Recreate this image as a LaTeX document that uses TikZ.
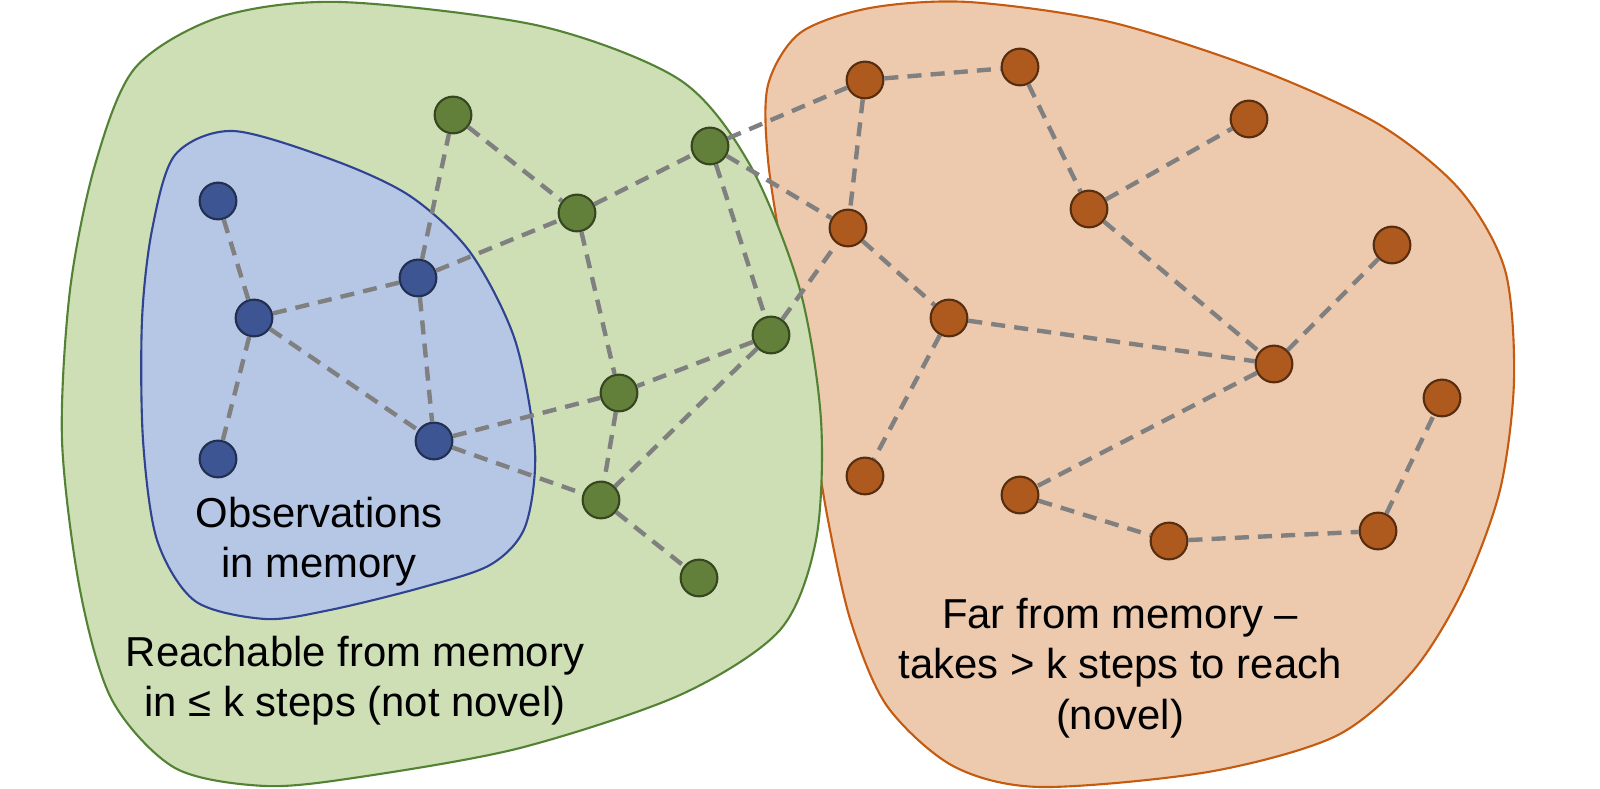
\documentclass[tikz,border=0pt]{standalone}
\usepackage{fontspec}
\setmainfont{Liberation Sans}
\definecolor{reachfill}{HTML}{CEDFB6}
\definecolor{reachline}{HTML}{548235}
\definecolor{memfill}{HTML}{B6C7E6}
\definecolor{memline}{HTML}{2F4390}
\definecolor{farfill}{HTML}{EDCAAE}
\definecolor{farline}{HTML}{C55A11}
\definecolor{gdotfill}{HTML}{62803A}
\definecolor{bdotfill}{HTML}{3D5593}
\definecolor{odotfill}{HTML}{AE5A1E}
\begin{document}
\begin{tikzpicture}[x=0.01cm,y=-0.01cm,every node/.style={font=\fontsize{11.9}{14.3}\selectfont},
  dot/.style={circle,minimum size=0.367cm,inner sep=0pt,line width=0.6pt},
  bdot/.style={dot,fill=bdotfill,draw=bdotfill!55!black},
  gdot/.style={dot,fill=gdotfill,draw=gdotfill!55!black},
  odot/.style={dot,fill=odotfill,draw=odotfill!50!black},
  link/.style={draw=black!50,line width=1.25pt,dash pattern=on 4pt off 2.6pt}]
   \useasboundingbox (0,0) rectangle (1600,789);
   % regions
   \draw [fill=farfill,draw=farline,line width=0.6pt] plot[smooth cycle] coordinates {(968,2) (1110,22) (1260,70) (1380,125) (1460,190) (1505,270) (1514,380) (1500,490) (1463,590) (1412,672) (1336,736) (1208,772) (1040,787) (953,766) (887,706) (851,622) (828,520) (808,400) (785,270) (768,160) (768,85) (800,33) (870,8)};
   \draw [fill=reachfill,draw=reachline,line width=0.6pt] plot[smooth cycle] coordinates {(340,2) (540,26) (680,80) (750,165) (800,290) (821,420) (816,540) (780,630) (680,695) (520,748) (360,777) (265,786) (175,768) (112,700) (80,590) (62,440) (70,290) (95,165) (135,68) (220,17)};
   \draw [fill=memfill,draw=memline,line width=0.6pt] plot[smooth cycle] coordinates {(233,131) (333,160) (410,196) (470,252) (515,340) (535,450) (525,527) (490,565) (420,588) (330,610) (265,619) (195,601) (157,540) (143,440) (142,320) (152,230) (175,155)};
   % observations
   \node [bdot] (b1) at (218,201) {};
   \node [bdot] (b2) at (254,318) {};
   \node [bdot] (b3) at (418,278) {};
   \node [bdot] (b4) at (218,459) {};
   \node [bdot] (b5) at (434,441) {};
   \node [gdot] (g1) at (453,115) {};
   \node [gdot] (g2) at (577,213) {};
   \node [gdot] (g3) at (710,146) {};
   \node [gdot] (g4) at (771,335) {};
   \node [gdot] (g5) at (619,393) {};
   \node [gdot] (g6) at (601,500) {};
   \node [gdot] (g7) at (699,578) {};
   \node [odot] (o1) at (865,80) {};
   \node [odot] (o2) at (1020,67) {};
   \node [odot] (o3) at (1249,119) {};
   \node [odot] (o4) at (1089,209) {};
   \node [odot] (o5) at (848,228) {};
   \node [odot] (o6) at (1392,245) {};
   \node [odot] (o7) at (949,318) {};
   \node [odot] (o8) at (1274,364) {};
   \node [odot] (o9) at (1442,398) {};
   \node [odot] (o10) at (865,476) {};
   \node [odot] (o11) at (1020,495) {};
   \node [odot] (o12) at (1169,541) {};
   \node [odot] (o13) at (1378,531) {};
   % steps
   \draw [link] (b1) -- (b2) (b2) -- (b3) (b2) -- (b4) (b2) -- (b5) (b3) -- (b5)
    (b3) -- (g1) (b3) -- (g2) (b5) -- (g5) (b5) -- (g6);
   \draw [link] (g1) -- (g2) (g2) -- (g3) (g2) -- (g5) (g3) -- (g4) (g3) -- (o1)
    (g3) -- (o5) (g4) -- (g5) (g4) -- (g6) (g4) -- (o5) (g5) -- (g6) (g6) -- (g7);
   \draw [link] (o1) -- (o2) (o1) -- (o5) (o2) -- (o4) (o4) -- (o3) (o4) -- (o8)
    (o5) -- (o7) (o7) -- (o8) (o7) -- (o10) (o8) -- (o6) (o8) -- (o11)
    (o11) -- (o12) (o12) -- (o13) (o13) -- (o9);
   \node [align=center] (memtext) at (319,542) {Observations\\in memory};
   \node [align=center] (reachtext) at (355,681) {Reachable from memory\\in ≤ k steps (not novel)};
   \node [align=center] (fartext) at (1120,668) {Far from memory –\\takes > k steps to reach\\(novel)};
  \end{tikzpicture}
\end{document}
